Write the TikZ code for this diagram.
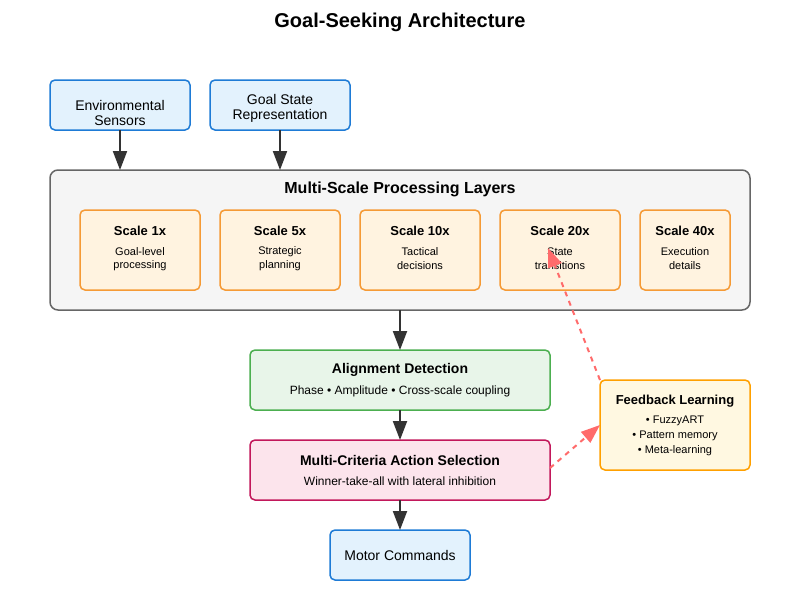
\documentclass[tikz,border=0pt]{standalone}
\usepackage{fontspec}
\setmainfont{Liberation Sans}
\usetikzlibrary{arrows.meta}
\definecolor{bluef}{HTML}{E3F2FD}
\definecolor{blued}{HTML}{1E7BD6}
\definecolor{grayf}{HTML}{F5F5F5}
\definecolor{grayd}{HTML}{666666}
\definecolor{orf}{HTML}{FFF3E0}
\definecolor{ord}{HTML}{F59A35}
\definecolor{grf}{HTML}{E8F5E9}
\definecolor{grd}{HTML}{4CAF50}
\definecolor{pkf}{HTML}{FCE4EC}
\definecolor{pkd}{HTML}{C2185B}
\definecolor{ylf}{HTML}{FFF8E1}
\definecolor{yld}{HTML}{FFA000}
\definecolor{arrc}{HTML}{333333}
\definecolor{fbc}{HTML}{FF6B6B}
\newcommand{\fs}[1]{\fontsize{#1}{#1}\selectfont}
\begin{document}
\begin{tikzpicture}[x=1pt,y=-1pt,
  box/.style={draw, rounded corners=5pt, line width=1.5pt, inner sep=0pt, outer sep=0pt},
  bluebox/.style={box, fill=bluef, draw=blued},
  scalebox/.style={box, fill=orf, draw=ord, minimum height=80pt},
  txt/.style={inner sep=0pt, align=center, text=black},
  arr/.style={draw=arrc, line width=2pt, -{Triangle[length=19pt,width=14pt]}},
  fbarr/.style={draw=fbc, line width=2pt, dash pattern=on 5pt off 5pt, -{Triangle[length=19pt,width=14pt]}}
]
\useasboundingbox (0,0) rectangle (800,600);
\fill[white] (0,0) rectangle (800,600);

\node[txt, font=\bfseries\fs{20}] (title) at (400,22) {Goal-Seeking Architecture};

% inputs
\node[bluebox, minimum width=140pt, minimum height=50pt] (env) at (120,105) {};
\node[txt, font=\fs{14}, text depth=0pt] (envt) at (120,113) {Environmental\\[1pt]Sensors};
\node[bluebox, minimum width=140pt, minimum height=50pt] (goal) at (280,105) {};
\node[txt, font=\fs{14}] (goalt) at (280,108) {Goal State\\[1pt]Representation};

% processing layers
\node[box, fill=grayf, draw=grayd, rounded corners=8pt, minimum width=700pt, minimum height=140pt] (proc) at (400,240) {};
\node[txt, font=\bfseries\fs{16}] (proct) at (400,189.5) {Multi-Scale Processing Layers};

\node[scalebox, minimum width=120pt] (s1) at (140,250) {};
\node[scalebox, minimum width=120pt] (s5) at (280,250) {};
\node[scalebox, minimum width=120pt] (s10) at (420,250) {};
\node[scalebox, minimum width=120pt] (s20) at (560,250) {};
\node[scalebox, minimum width=90pt] (s40) at (685,250) {};

\foreach \n/\x/\t/\a/\b in {s1/140/Scale 1x/Goal-level/processing,
  s5/280/Scale 5x/Strategic/planning,
  s10/420/Scale 10x/Tactical/decisions,
  s20/560/Scale 20x/State/transitions,
  s40/685/Scale 40x/Execution/details}{
  \node[txt, font=\bfseries\fs{13}] (\n t) at (\x,230.5) {\t};
  \node[txt, font=\fs{11}] (\n a) at (\x,251.5) {\a};
  \node[txt, font=\fs{11}] (\n b) at (\x,266) {\b};
}

% alignment
\node[box, fill=grf, draw=grd, minimum width=300pt, minimum height=60pt] (align) at (400,380) {};
\node[txt, font=\bfseries\fs{14}] (alignt) at (400,370) {Alignment Detection};
\node[txt, font=\fs{12}] (aligns) at (400,391) {Phase • Amplitude • Cross-scale coupling};

% action selection
\node[box, fill=pkf, draw=pkd, minimum width=300pt, minimum height=60pt] (act) at (400,470) {};
\node[txt, font=\bfseries\fs{14}] (actt) at (400,460) {Multi-Criteria Action Selection};
\node[txt, font=\fs{12}] (acts) at (400,481) {Winner-take-all with lateral inhibition};

% motor
\node[bluebox, minimum width=140pt, minimum height=50pt] (motor) at (400,555) {};
\node[txt, font=\fs{14}] (motort) at (400,555) {Motor Commands};

% feedback
\node[box, fill=ylf, draw=yld, minimum width=150pt, minimum height=90pt] (fb) at (675,425) {};
\node[txt, font=\bfseries\fs{13}] (fbt) at (675,401) {Feedback Learning};
\node[txt, font=\fs{11}] (fb1) at (675,421) {• FuzzyART};
\node[txt, font=\fs{11}] (fb2) at (675,436) {• Pattern memory};
\node[txt, font=\fs{11}] (fb3) at (675,451) {• Meta-learning};

% arrows
\draw[arr] (env.south) -- (env.south |- proc.north);
\draw[arr] (goal.south) -- (goal.south |- proc.north);
\draw[arr] (proc.south) -- (align.north);
\draw[arr] (align.south) -- (act.north);
\draw[arr] (act.south) -- (motor.north);

\coordinate (fbend) at (548,248);
\coordinate (actr) at (550,468);
\coordinate (fbin) at (600,425);
\draw[fbarr] (fb.north west) -- (fbend);
\draw[fbarr] (actr) -- (fbin);
\end{tikzpicture}
\end{document}
